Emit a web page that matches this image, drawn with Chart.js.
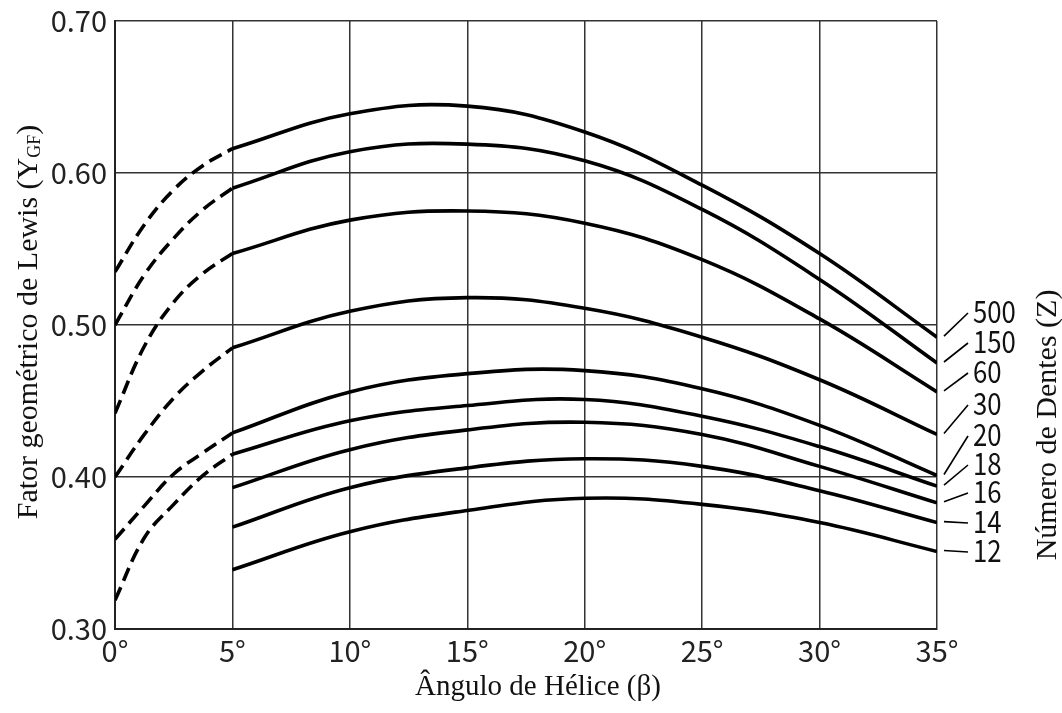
<!DOCTYPE html>
<html lang="pt">
<head>
<meta charset="utf-8">
<title>Fator geométrico de Lewis</title>
<script src="https://cdn.jsdelivr.net/npm/chart.js@4.4.1/dist/chart.umd.min.js"></script>
<style>
  html, body { margin: 0; padding: 0; background: #fff; }
  #wrap { width: 1062px; height: 713px; }
</style>
</head>
<body>
<div id="wrap"><canvas id="grafico" width="1062" height="713"></canvas></div>
<script>
// Número de dentes (Z) de cada curva
const dentes = ['500', '150', '60', '30', '20', '18', '16', '14', '12'];

// Ângulos de hélice (graus)
const anguloContinuo = [5, 10, 15, 20, 25, 30, 35];
const anguloTracejado = [0, 1.25, 2.5, 3.75, 5];

// Fator geométrico de Lewis, trecho contínuo (5° a 35°)
const yz500 = [0.616, 0.639, 0.644, 0.627, 0.592, 0.547, 0.492];
const yz150 = [0.590, 0.614, 0.619, 0.608, 0.576, 0.530, 0.475];
const yz60  = [0.547, 0.569, 0.575, 0.567, 0.543, 0.504, 0.456];
const yz30  = [0.485, 0.509, 0.518, 0.511, 0.492, 0.464, 0.428];
const yz20  = [0.429, 0.456, 0.468, 0.470, 0.458, 0.434, 0.401];
const yz18  = [0.415, 0.437, 0.447, 0.451, 0.440, 0.420, 0.394];
const yz16  = [0.393, 0.418, 0.431, 0.436, 0.428, 0.407, 0.383];
const yz14  = [0.367, 0.393, 0.406, 0.412, 0.407, 0.391, 0.370];
const yz12  = [0.339, 0.364, 0.378, 0.386, 0.382, 0.370, 0.351];

// Trecho tracejado (0° a 5°)
const yt500 = [0.535, 0.566, 0.589, 0.605, 0.616];
const yt150 = [0.500, 0.533, 0.557, 0.576, 0.590];
const yt60  = [0.442, 0.486, 0.515, 0.534, 0.547];
const yt30  = [0.400, 0.428, 0.452, 0.470, 0.485];
const yt20  = [0.359, 0.381, 0.402, 0.416, 0.429];
const yt18  = [0.319, 0.360, 0.382, 0.401, 0.415];

// Rótulos dos eixos
const yTicks = [0.30, 0.40, 0.50, 0.60, 0.70];
const xTicks = [0, 5, 10, 15, 20, 25, 30, 35];

const continuos = [yz500, yz150, yz60, yz30, yz20, yz18, yz16, yz14, yz12];
const tracejados = [yt500, yt150, yt60, yt30, yt20, yt18];

// Posição vertical (px) do texto de cada rótulo à direita
const rotuloY = [313, 343, 373, 405, 436, 465, 493, 523, 552];

const pontos = (xs, ys) => xs.map((a, i) => ({ x: a, y: ys[i] }));

const datasets = [];
continuos.forEach((ys, i) => datasets.push({
  label: 'Z = ' + dentes[i],
  data: pontos(anguloContinuo, ys),
  borderColor: '#000', borderWidth: 3.6, pointRadius: 0,
  tension: 0.4, fill: false
}));
tracejados.forEach((ys, i) => datasets.push({
  label: 'Z = ' + dentes[i] + ' (tracejado)',
  data: pontos(anguloTracejado, ys),
  borderColor: '#000', borderWidth: 3.6, pointRadius: 0,
  tension: 0.4, borderDash: [14, 7], fill: false
}));

const fonteNum = '"Noto Sans CJK JP", "DejaVu Sans Condensed", sans-serif';
const fonteSerif = '"Liberation Serif", "DejaVu Serif", serif';

const anotacoes = {
  id: 'anotacoes',
  afterDraw(chart) {
    const { ctx, scales: { y } } = chart;
    ctx.save();
    // linhas de chamada e números de dentes
    ctx.strokeStyle = '#000';
    ctx.lineWidth = 1.6;
    ctx.fillStyle = '#111';
    ctx.font = '31px ' + fonteNum;
    ctx.textAlign = 'left';
    ctx.textBaseline = 'middle';
    continuos.forEach((ys, i) => {
      const y0 = y.getPixelForValue(ys[ys.length - 1]) - 1;
      ctx.beginPath();
      ctx.moveTo(944, y0);
      ctx.lineTo(968, rotuloY[i]);
      ctx.stroke();
      ctx.save();
      ctx.translate(973, rotuloY[i] - 2);
      ctx.scale(0.83, 1);
      ctx.fillText(dentes[i], 0, 0);
      ctx.restore();
    });

    // título do eixo x
    ctx.font = '29px ' + fonteSerif;
    ctx.textAlign = 'center';
    ctx.textBaseline = 'alphabetic';
    ctx.fillText('Ângulo de Hélice (β)', 538, 695);

    // título do eixo y com índice
    const principal = 'Fator geométrico de Lewis (Y';
    const indice = 'GF';
    const fim = ')';
    ctx.font = '30px ' + fonteSerif;
    const w1 = ctx.measureText(principal).width;
    const w3 = ctx.measureText(fim).width;
    ctx.font = '18px ' + fonteSerif;
    const w2 = ctx.measureText(indice).width;
    const total = w1 + w2 + w3;
    ctx.save();
    ctx.translate(37, 322);
    ctx.rotate(-Math.PI / 2);
    ctx.textAlign = 'left';
    ctx.font = '30px ' + fonteSerif;
    ctx.fillText(principal, -total / 2, 0);
    ctx.font = '18px ' + fonteSerif;
    ctx.fillText(indice, -total / 2 + w1, 3);
    ctx.font = '30px ' + fonteSerif;
    ctx.fillText(fim, -total / 2 + w1 + w2, 0);
    ctx.restore();

    // título à direita
    ctx.save();
    ctx.translate(1056, 425);
    ctx.rotate(-Math.PI / 2);
    ctx.textAlign = 'center';
    ctx.font = '30px ' + fonteSerif;
    ctx.fillText('Número de Dentes (Z)', 0, 0);
    ctx.restore();

    ctx.restore();
  }
};

new Chart(document.getElementById('grafico'), {
  type: 'line',
  data: { datasets },
  options: {
    responsive: false,
    animation: false,
    devicePixelRatio: 1,
    layout: { padding: { top: 21, right: 125, bottom: 0, left: 0 } },
    plugins: { legend: { display: false }, tooltip: { enabled: false } },
    scales: {
      x: {
        type: 'linear', min: 0, max: 35,
        afterBuildTicks: s => { s.ticks = xTicks.map(v => ({ value: v })); },
        afterFit: s => { s.height = 84; s.paddingLeft = 0; s.paddingRight = 0; },
        ticks: {
          callback: v => v + '°',
          font: { family: fonteNum, size: 29 },
          color: '#222', padding: 5, maxRotation: 0
        },
        grid: { color: '#333', lineWidth: 1.5, drawTicks: false },
        border: { color: '#222', width: 2 }
      },
      y: {
        type: 'linear', min: 0.3, max: 0.7,
        afterBuildTicks: s => { s.ticks = yTicks.map(v => ({ value: v })); },
        afterFit: s => { s.width = 115; s.paddingTop = 0; s.paddingBottom = 0; },
        ticks: {
          callback: v => Number(v).toFixed(2),
          font: { family: fonteNum, size: 29 },
          color: '#222', padding: 8
        },
        grid: { color: '#333', lineWidth: 1.5, drawTicks: false },
        border: { color: '#222', width: 2 }
      }
    }
  },
  plugins: [anotacoes]
});
</script>
</body>
</html>
